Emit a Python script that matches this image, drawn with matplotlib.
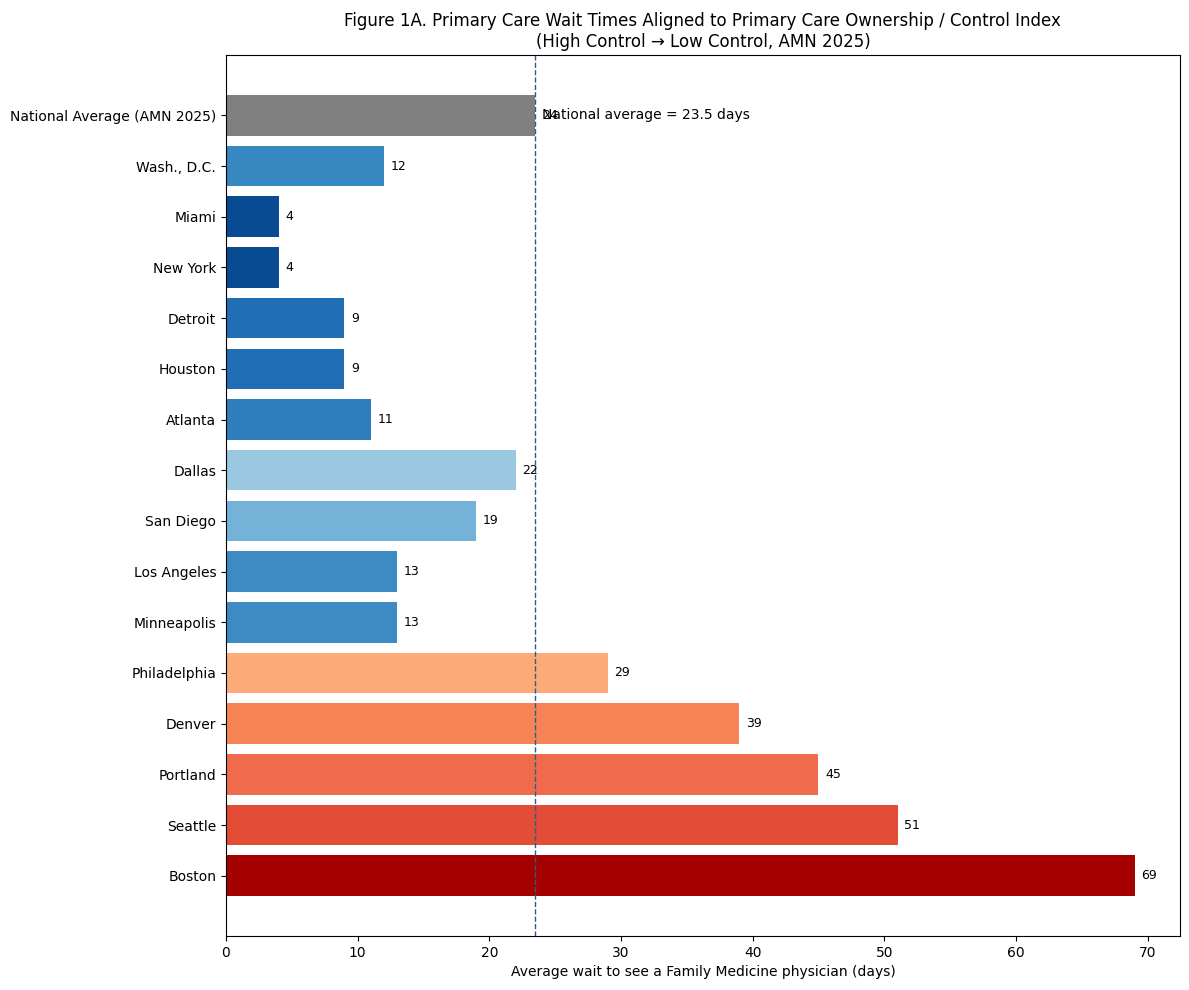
import matplotlib.pyplot as plt

# cities ordered bottom -> top (low control at bottom, high control at top)
cities = ["Boston", "Seattle", "Portland", "Denver", "Philadelphia",
          "Minneapolis", "Los Angeles", "San Diego", "Dallas", "Atlanta",
          "Houston", "Detroit", "New York", "Miami", "Wash., D.C.",
          "National Average (AMN 2025)"]
wait_days = [69, 51, 45, 39, 29, 13, 13, 19, 22, 11, 9, 9, 4, 4, 12, 23.5]
bar_colors = ["#a50000", "#e34c36", "#f06a4c", "#f78455", "#fcab78",
              "#3e8bc4", "#3e8bc4", "#74b2d7", "#9ac8e0", "#2e7dbc",
              "#206fb4", "#206fb4", "#084b93", "#084b93", "#3787c0",
              "#808080"]
national_avg = 23.5

fig, ax = plt.subplots(figsize=(11.89, 9.9), dpi=100)
ax.barh(cities, wait_days, color=bar_colors, height=0.8)

for i, v in enumerate(wait_days):
    ax.text(v + 0.5, i, f"{v:.0f}", va="center", ha="left", fontsize=9)

ax.axvline(national_avg, color="#2b5d8c", linestyle="--", linewidth=1)
ax.text(national_avg + 0.5, len(cities) - 1, f"National average = {national_avg} days",
        va="center", ha="left", fontsize=10)

ax.set_xlabel("Average wait to see a Family Medicine physician (days)")
ax.set_title("Figure 1A. Primary Care Wait Times Aligned to Primary Care Ownership / Control Index\n"
             "(High Control \u2192 Low Control, AMN 2025)")

fig.subplots_adjust(left=0.190, right=0.9924, top=0.9444, bottom=0.0545)
plt.savefig("out.png")
